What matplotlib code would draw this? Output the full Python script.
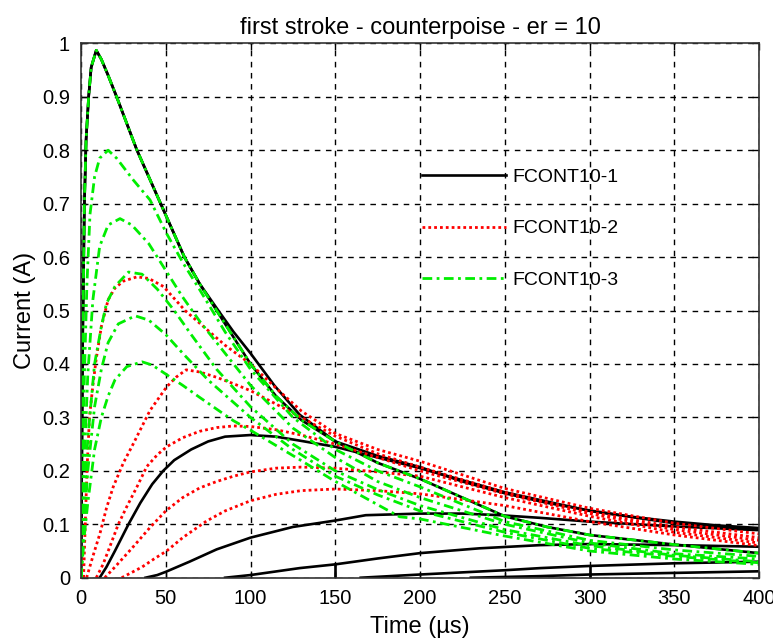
import matplotlib
matplotlib.use("Agg")
import matplotlib.pyplot as plt

plt.rcParams['font.family'] = ['Liberation Sans', 'DejaVu Sans']

# ---------------- data ----------------
# FCONT10-1 (black, solid)
b1_t = [0, 1, 2, 3, 4.5, 6, 9, 12, 16, 21, 27, 33, 40, 47, 54, 61, 70, 81, 90, 100, 114, 129, 150, 175, 200, 225, 250, 275, 300, 325, 350, 375, 400]
b1_i = [0, 0.45, 0.7, 0.82, 0.9, 0.955, 0.987, 0.97, 0.94, 0.9, 0.85, 0.8, 0.75, 0.7, 0.65, 0.6, 0.55, 0.5, 0.46, 0.42, 0.36, 0.305, 0.255, 0.228, 0.207, 0.18, 0.158, 0.14, 0.126, 0.114, 0.105, 0.098, 0.093]
b2_t = [11, 15, 20, 28, 35, 42, 48.5, 55, 65, 75, 85, 100, 115, 130, 150, 175, 200, 250, 300, 350, 400]
b2_i = [0, 0.02, 0.05, 0.1, 0.14, 0.175, 0.2, 0.22, 0.24, 0.255, 0.264, 0.267, 0.264, 0.256, 0.245, 0.225, 0.205, 0.16, 0.125, 0.102, 0.09]
b3_t = [38, 45, 50, 64, 80, 100, 125, 150, 168, 200, 225, 247, 271, 300, 350, 400]
b3_i = [0, 0.005, 0.011, 0.03, 0.053, 0.075, 0.095, 0.107, 0.117, 0.12, 0.12, 0.117, 0.112, 0.105, 0.096, 0.089]
b4_t = [85, 100, 129, 150, 175, 200, 235, 271, 300, 350, 400]
b4_i = [0, 0.005, 0.018, 0.025, 0.036, 0.046, 0.055, 0.061, 0.063, 0.061, 0.058]
b5_t = [165, 200, 250, 271, 300, 350, 400]
b5_i = [0, 0.006, 0.014, 0.018, 0.022, 0.027, 0.03]
b6_t = [230, 271, 300, 350, 400]
b6_i = [0, 0.003, 0.006, 0.009, 0.012]
bv1_t = [150, 150]
bv1_i = [0, 0.025]
bv2_t = [300, 300]
bv2_i = [0, 0.022]

# FCONT10-2 (red, dotted)
r2_t = [1.5, 2.5, 3.5, 5, 7, 9, 12, 16, 20, 25, 33, 40, 48.6, 61.4, 73, 85, 100, 115, 130, 150, 175, 200, 250, 300, 350, 400]
r2_i = [0, 0.1, 0.2, 0.3, 0.36, 0.41, 0.47, 0.52, 0.542, 0.555, 0.563, 0.56, 0.545, 0.5, 0.468, 0.435, 0.4, 0.355, 0.312, 0.27, 0.24, 0.218, 0.167, 0.13, 0.102, 0.082]
r3_t = [3.3, 7, 11.2, 15, 19, 25, 30.9, 40.7, 50.5, 56, 62, 70, 80, 90, 100, 115, 130, 150, 175, 200, 250, 300, 350, 400]
r3_i = [0, 0.04, 0.083, 0.13, 0.17, 0.215, 0.251, 0.313, 0.357, 0.375, 0.389, 0.385, 0.375, 0.363, 0.35, 0.325, 0.3, 0.265, 0.232, 0.207, 0.16, 0.123, 0.095, 0.075]
r4_t = [9, 13, 17, 22, 27, 33, 38.8, 45, 50.5, 60, 70, 80, 90, 100, 115, 130, 150, 175, 200, 250, 300, 350, 400]
r4_i = [0, 0.025, 0.058, 0.1, 0.133, 0.17, 0.208, 0.23, 0.245, 0.262, 0.274, 0.281, 0.284, 0.283, 0.277, 0.267, 0.25, 0.225, 0.2, 0.157, 0.12, 0.09, 0.07]
r5_t = [14, 20, 30, 40.7, 50, 60, 70, 80, 90, 100, 115, 130, 150, 175, 200, 250, 300, 350, 400]
r5_i = [0, 0.02, 0.055, 0.094, 0.125, 0.15, 0.168, 0.18, 0.19, 0.198, 0.205, 0.207, 0.205, 0.198, 0.19, 0.15, 0.115, 0.085, 0.065]
r6_t = [24, 30, 36, 43, 50.5, 60, 74, 85, 100, 115, 130, 150, 175, 200, 250, 300, 350, 400]
r6_i = [0, 0.01, 0.02, 0.035, 0.05, 0.075, 0.106, 0.125, 0.144, 0.156, 0.163, 0.166, 0.163, 0.157, 0.135, 0.105, 0.08, 0.06]

# FCONT10-3 (green, dash-dot)
g1_t = [0, 1, 2, 3, 4.5, 6, 9, 12, 16, 21, 27, 33, 40, 47, 54, 61, 70, 80, 90, 100, 115, 130, 150, 175, 200, 225, 250, 275, 300, 350, 400]
g1_i = [0, 0.45, 0.7, 0.82, 0.9, 0.955, 0.987, 0.97, 0.94, 0.9, 0.85, 0.8, 0.75, 0.7, 0.65, 0.6, 0.55, 0.5, 0.45, 0.40, 0.34, 0.295, 0.255, 0.215, 0.185, 0.15, 0.115, 0.095, 0.08, 0.062, 0.046]
g2_t = [0, 1, 2, 3.5, 5.3, 8, 11, 16, 21, 30.9, 40.7, 50.5, 60.4, 70.2, 85, 100, 125, 150, 175, 200, 250, 300, 350, 400]
g2_i = [0, 0.2, 0.38, 0.55, 0.68, 0.75, 0.785, 0.8, 0.785, 0.744, 0.707, 0.644, 0.588, 0.538, 0.46, 0.39, 0.3, 0.24, 0.2, 0.17, 0.105, 0.07, 0.052, 0.04]
g3_t = [0, 1, 2, 4, 7, 11, 16, 23, 30, 40, 50, 60, 70, 80, 100, 125, 150, 175, 200, 250, 300, 350, 400]
g3_i = [0, 0.12, 0.22, 0.38, 0.52, 0.62, 0.66, 0.672, 0.66, 0.625, 0.575, 0.525, 0.48, 0.44, 0.36, 0.28, 0.225, 0.18, 0.15, 0.1, 0.065, 0.045, 0.035]
g4_t = [0, 1, 2, 4, 8, 12, 15, 20, 28, 36, 45, 55, 65, 80, 100, 125, 150, 175, 200, 250, 300, 350, 400]
g4_i = [0, 0.08, 0.15, 0.26, 0.4, 0.47, 0.513, 0.545, 0.572, 0.568, 0.54, 0.5, 0.455, 0.39, 0.32, 0.25, 0.2, 0.165, 0.135, 0.09, 0.06, 0.042, 0.03]
g5_t = [0, 1, 2, 4, 8, 12, 16, 22, 32, 40, 50, 60, 75, 100, 125, 150, 175, 200, 250, 300, 350, 400]
g5_i = [0, 0.06, 0.11, 0.2, 0.32, 0.39, 0.44, 0.475, 0.49, 0.482, 0.455, 0.42, 0.37, 0.3, 0.24, 0.19, 0.155, 0.125, 0.085, 0.055, 0.04, 0.028]
g6_t = [0, 1, 2, 4, 8, 12, 16, 20, 27, 36, 42, 50.5, 60, 70.2, 89.8, 100, 129.5, 149, 188, 200, 250, 300, 350, 400]
g6_i = [0, 0.04, 0.08, 0.14, 0.24, 0.3, 0.34, 0.37, 0.395, 0.404, 0.398, 0.38, 0.36, 0.337, 0.294, 0.276, 0.22, 0.182, 0.114, 0.11, 0.078, 0.05, 0.035, 0.025]

labels = ['FCONT10-1', 'FCONT10-2', 'FCONT10-3']
title = 'first stroke - counterpoise - er = 10'
x_ticks = [0, 50, 100, 150, 200, 250, 300, 350, 400]
y_ticks = [0, 0.1, 0.2, 0.3, 0.4, 0.5, 0.6, 0.7, 0.8, 0.9, 1]
y_tick_labels = ['0', '0.1', '0.2', '0.3', '0.4', '0.5', '0.6', '0.7', '0.8', '0.9', '1']

# ---------------- figure ----------------
fig = plt.figure(figsize=(7.73, 6.39), dpi=100)
ax = fig.add_axes([0.1048, 0.0959, 0.8771, 0.8363])

bkw = dict(color='black', lw=1.9, solid_joinstyle='round')
rkw = dict(color='#ff0000', lw=2.0, linestyle=(0, (1, 1.1)), dash_capstyle='butt')
gkw = dict(color='#00ee00', lw=2.0, linestyle=(0, (3.5, 1.6, 1.0, 1.6)), dash_capstyle='butt')

black_series = [(b1_t, b1_i), (b2_t, b2_i), (b3_t, b3_i), (b4_t, b4_i),
                (b5_t, b5_i), (b6_t, b6_i), (bv1_t, bv1_i), (bv2_t, bv2_i),
                (g1_t, g1_i)]
red_series = [(r2_t, r2_i), (r3_t, r3_i), (r4_t, r4_i), (r5_t, r5_i), (r6_t, r6_i)]
green_series = [(g1_t, g1_i), (g2_t, g2_i), (g3_t, g3_i), (g4_t, g4_i),
                (g5_t, g5_i), (g6_t, g6_i)]

for k, (t, i) in enumerate(black_series):
    ax.plot(t, i, label=labels[0] if k == 0 else None, **bkw)
for k, (t, i) in enumerate(red_series):
    ax.plot(t, i, label=labels[1] if k == 0 else None, **rkw)
for k, (t, i) in enumerate(green_series):
    ax.plot(t, i, label=labels[2] if k == 0 else None, **gkw)

ax.set_xlim(0, 400)
ax.set_ylim(0, 1)
ax.set_xticks(x_ticks)
ax.set_yticks(y_ticks)
ax.set_yticklabels(y_tick_labels)
ax.tick_params(direction='in', top=True, right=True, labelsize=14.5, length=5, width=1, pad=8)
ax.grid(True, color='black', linestyle=(0, (4, 4)), lw=1.0)
for s in ax.spines.values():
    s.set_linewidth(1.2)
    s.set_color('#333333')

ax.set_title(title, fontsize=17, pad=7)
ax.set_xlabel('Time (µs)', fontsize=17, labelpad=6)
ax.set_ylabel('Current (A)', fontsize=17, labelpad=4)

leg = ax.legend(loc='upper left', bbox_to_anchor=(0.492, 0.781), frameon=False,
                fontsize=14, handlelength=4.3, handletextpad=0.35, labelspacing=1.75,
                borderaxespad=0)

fig.savefig('out.png', dpi=100)
